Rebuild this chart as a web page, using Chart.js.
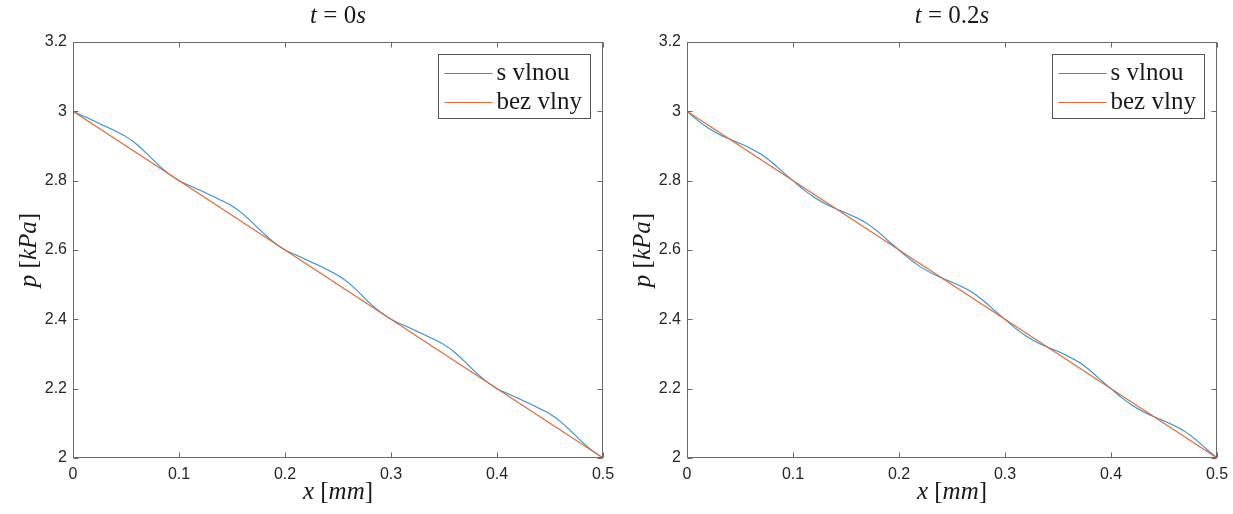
<!DOCTYPE html>
<html>
<head>
<meta charset="utf-8">
<script src="https://cdn.jsdelivr.net/npm/chart.js@4"></script>
<style>
  body { margin: 0; background: #fff; }
  .pane { position: absolute; top: 0; width: 616px; height: 514px; }
</style>
</head>
<body>
<div class="pane" style="left:0"><canvas id="c0" width="616" height="514"></canvas></div>
<div class="pane" style="left:614px"><canvas id="c1" width="616" height="514"></canvas></div>
<script>
// x positions of the wave curve [mm]
const xWave = [0, 0.01, 0.02, 0.03, 0.04, 0.05, 0.06, 0.07, 0.08, 0.09,
               0.1, 0.11, 0.12, 0.13, 0.14, 0.15, 0.16, 0.17, 0.18, 0.19,
               0.2, 0.21, 0.22, 0.23, 0.24, 0.25, 0.26, 0.27, 0.28, 0.29,
               0.3, 0.31, 0.32, 0.33, 0.34, 0.35, 0.36, 0.37, 0.38, 0.39,
               0.4, 0.41, 0.42, 0.43, 0.44, 0.45, 0.46, 0.47, 0.48, 0.49, 0.5];

// p [kPa] with wave, t = 0 s
const pWaveT0 = [3.000, 2.986, 2.972, 2.958, 2.943, 2.927, 2.905, 2.877, 2.847, 2.821,
                 2.800, 2.786, 2.772, 2.758, 2.743, 2.727, 2.705, 2.677, 2.647, 2.621,
                 2.600, 2.586, 2.572, 2.558, 2.543, 2.527, 2.505, 2.477, 2.447, 2.421,
                 2.400, 2.386, 2.372, 2.358, 2.343, 2.327, 2.305, 2.277, 2.247, 2.221,
                 2.200, 2.186, 2.172, 2.158, 2.143, 2.127, 2.105, 2.077, 2.047, 2.021, 2.000];

// p [kPa] with wave, t = 0.2 s
const pWaveT02 = [3.000, 2.974, 2.952, 2.934, 2.920, 2.907, 2.893, 2.876, 2.853, 2.826,
                  2.800, 2.774, 2.752, 2.734, 2.720, 2.707, 2.693, 2.676, 2.653, 2.626,
                  2.600, 2.574, 2.552, 2.534, 2.520, 2.507, 2.493, 2.476, 2.453, 2.426,
                  2.400, 2.374, 2.352, 2.334, 2.320, 2.307, 2.293, 2.276, 2.253, 2.226,
                  2.200, 2.174, 2.152, 2.134, 2.120, 2.107, 2.093, 2.076, 2.053, 2.026, 2.000];

// without wave: straight line
const xFlat = [0, 0.5];
const pFlat = [3, 2];

const seriesNames = ['s vlnou', 'bez vlny'];

const xTicks = [0, 0.1, 0.2, 0.3, 0.4, 0.5];
const xTickLabels = ['0', '0.1', '0.2', '0.3', '0.4', '0.5'];
const yTicks = [2, 2.2, 2.4, 2.6, 2.8, 3, 3.2];
const yTickLabels = ['2', '2.2', '2.4', '2.6', '2.8', '3', '3.2'];

// text pieces: [text, italic]
const titleT0 = [['t', 1], [' = ', 0], ['0', 0], ['s', 1]];
const titleT02 = [['t', 1], [' = ', 0], ['0.2', 0], ['s', 1]];
const xLabel = [['x', 1], [' [', 0], ['mm', 1], [']', 0]];
const yLabel = [['p', 1], [' [', 0], ['kPa', 1], [']', 0]];

const SERIF = '"Liberation Serif", "Times New Roman", serif';
const SANS = '"Liberation Sans", Arial, sans-serif';
const AXIS_COL = '#6b6b6b';

function drawMath(ctx, parts, x, y, size, rotate) {
    ctx.save();
    ctx.translate(x, y);
    if (rotate) ctx.rotate(-Math.PI / 2);
    ctx.textBaseline = 'middle';
    ctx.textAlign = 'left';
    ctx.fillStyle = '#1a1a1a';
    let total = 0;
    parts.forEach(p => {
        ctx.font = (p[1] ? 'italic ' : '') + size + 'px ' + SERIF;
        total += ctx.measureText(p[0]).width;
    });
    let cx = -total / 2;
    parts.forEach(p => {
        ctx.font = (p[1] ? 'italic ' : '') + size + 'px ' + SERIF;
        ctx.fillText(p[0], cx, 0);
        cx += ctx.measureText(p[0]).width;
    });
    ctx.restore();
}

// box, inward ticks, legend and LaTeX-like labels
const matlabLook = {
    id: 'matlabLook',
    afterDraw(chart) {
        const ctx = chart.ctx;
        const a = chart.chartArea;
        const sx = chart.scales.x, sy = chart.scales.y;
        const L = Math.round(a.left) + 0.5, R = Math.round(a.right) - 0.5;
        const T = Math.round(a.top) + 0.5, B = Math.round(a.bottom) - 0.5;

        ctx.save();
        ctx.strokeStyle = AXIS_COL;
        ctx.lineWidth = 1;
        ctx.strokeRect(L, T, R - L, B - T);
        ctx.beginPath();
        xTicks.forEach(v => {
            const px = Math.round(sx.getPixelForValue(v)) + 0.5;
            ctx.moveTo(px, B); ctx.lineTo(px, B - 5);
            ctx.moveTo(px, T); ctx.lineTo(px, T + 5);
        });
        yTicks.forEach(v => {
            const py = Math.round(sy.getPixelForValue(v)) + 0.5;
            ctx.moveTo(L, py); ctx.lineTo(L + 5, py);
            ctx.moveTo(R, py); ctx.lineTo(R - 5, py);
        });
        ctx.stroke();

        // legend
        const bw = 152, bh = 64;
        const bx = Math.round(a.right) - 13 - bw + 0.5, by = Math.round(a.top) + 12 + 0.5;
        ctx.fillStyle = '#fff';
        ctx.fillRect(bx, by, bw, bh);
        ctx.strokeStyle = '#555';
        ctx.strokeRect(bx, by, bw, bh);
        chart.data.datasets.forEach((ds, i) => {
            const ry = Math.round(by + 18 + i * 29) + 0.5;
            ctx.strokeStyle = ds.borderColor;
            ctx.lineWidth = 1;
            ctx.beginPath();
            ctx.moveTo(bx + 6, ry); ctx.lineTo(bx + 54, ry);
            ctx.stroke();
            ctx.fillStyle = '#1a1a1a';
            ctx.font = '25px ' + SERIF;
            ctx.textBaseline = 'middle';
            ctx.textAlign = 'left';
            ctx.fillText(ds.label, bx + 58, ry);
        });
        ctx.restore();

        const cx = (a.left + a.right) / 2;
        drawMath(ctx, chart.options.plugins.matlabLook.title, cx, 16, 25, false);
        drawMath(ctx, xLabel, cx, 492, 25, false);
        drawMath(ctx, yLabel, 29, (a.top + a.bottom) / 2, 25, true);
    }
};

function makeChart(id, pWave, titleParts) {
    return new Chart(document.getElementById(id), {
        type: 'line',
        data: {
            datasets: [
                {
                    label: seriesNames[0],
                    data: xWave.map((x, i) => ({ x: x, y: pWave[i] })),
                    borderColor: '#2f8fd2',
                    borderWidth: 1.1,
                    pointRadius: 0,
                    cubicInterpolationMode: 'monotone',
                    order: 1
                },
                {
                    label: seriesNames[1],
                    data: xFlat.map((x, i) => ({ x: x, y: pFlat[i] })),
                    borderColor: '#df6a38',
                    borderWidth: 1.1,
                    pointRadius: 0,
                    order: 0
                }
            ]
        },
        options: {
            responsive: false,
            animation: false,
            devicePixelRatio: 1,
            layout: { padding: { top: 42, right: 13, left: 0, bottom: 0 } },
            plugins: {
                legend: { display: false },
                tooltip: { enabled: false },
                matlabLook: { title: titleParts }
            },
            scales: {
                x: {
                    type: 'linear',
                    min: 0,
                    max: 0.5,
                    afterBuildTicks: s => { s.ticks = xTicks.map(v => ({ value: v })); },
                    afterFit: s => { s.height = 56; s.paddingLeft = 0; s.paddingRight = 0; },
                    grid: { display: false, drawTicks: false },
                    border: { display: false },
                    ticks: {
                        callback: (v, i) => xTickLabels[i],
                        autoSkip: false,
                        maxRotation: 0,
                        padding: 7,
                        color: '#262626',
                        font: { family: SANS, size: 16 }
                    }
                },
                y: {
                    type: 'linear',
                    min: 2,
                    max: 3.2,
                    afterBuildTicks: s => { s.ticks = yTicks.map(v => ({ value: v })); },
                    afterFit: s => { s.width = 73; s.paddingTop = 0; s.paddingBottom = 0; },
                    grid: { display: false, drawTicks: false },
                    border: { display: false },
                    ticks: {
                        callback: (v, i) => yTickLabels[i],
                        padding: 6,
                        color: '#262626',
                        font: { family: SANS, size: 16 }
                    }
                }
            }
        },
        plugins: [matlabLook]
    });
}

makeChart('c0', pWaveT0, titleT0);
makeChart('c1', pWaveT02, titleT02);
</script>
</body>
</html>
